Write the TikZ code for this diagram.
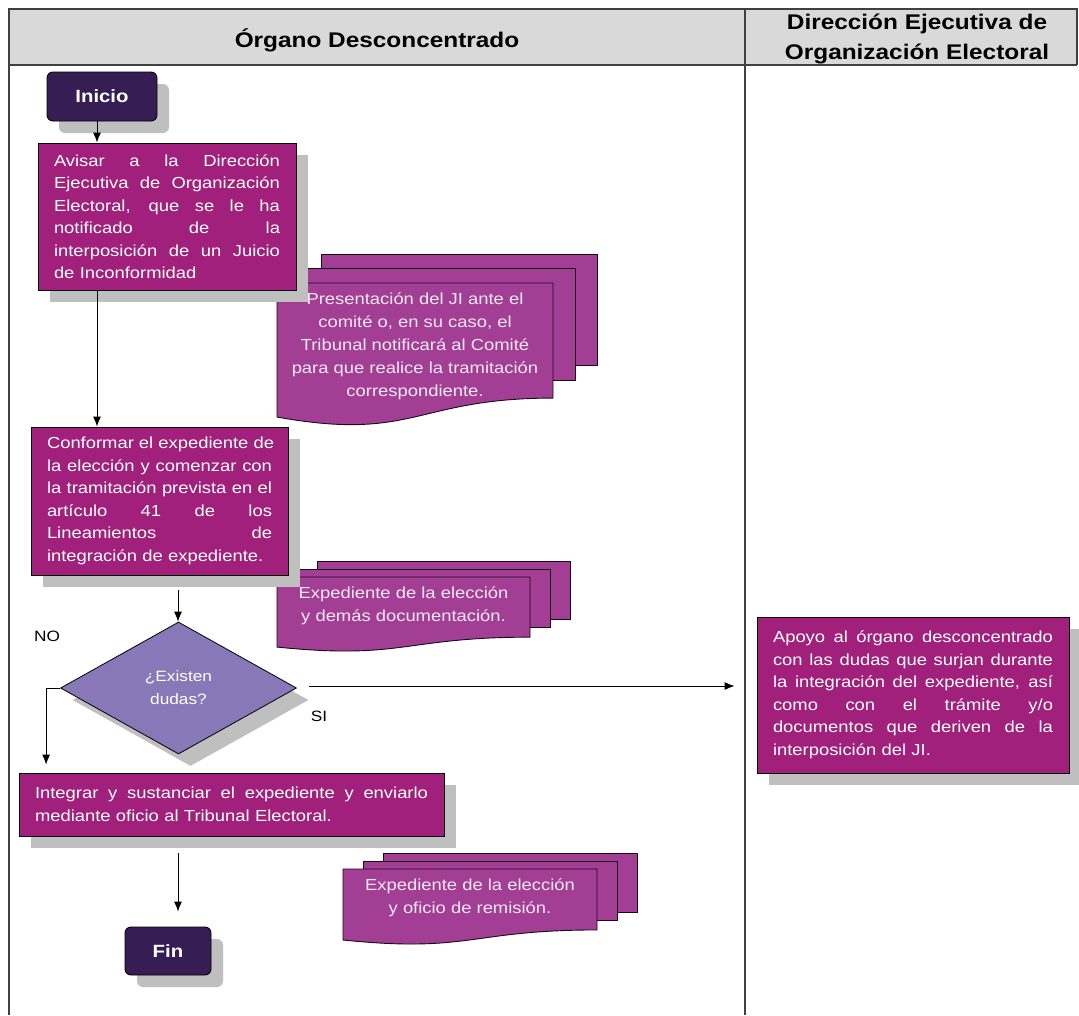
\documentclass[tikz,border=0pt]{standalone}
\usepackage{fontspec}
\setmainfont{Liberation Sans}[FakeStretch=1.15]
\usetikzlibrary{shapes.geometric,calc,arrows.meta,shadows}

\definecolor{boxfill}{HTML}{A0207C}
\definecolor{docfill}{HTML}{A23F95}
\definecolor{doctext}{HTML}{F6E8F3}
\definecolor{termfill}{HTML}{361E55}
\definecolor{decfill}{HTML}{8878B8}
\definecolor{shade}{HTML}{BFBFBF}
\definecolor{headfill}{HTML}{D9D9D9}
\definecolor{framecol}{HTML}{404040}

% one justified line that fills the text width
\newcommand\jrow[1]{\makebox[\hsize][s]{\spaceskip=\fontdimen2\font plus 1fil\xspaceskip=\spaceskip #1}}
% a stack of three sheets: left, top, width, height, x offset, y offset
\newcommand\paperstack[6]{%
  \filldraw[sheet] ({#1+2*#5},{#2-2*#6}) rectangle ({#1+2*#5+#3},{#2-2*#6+0.78*#4});
  \filldraw[sheet] ({#1+#5},{#2-#6}) rectangle ({#1+#5+#3},{#2-#6+0.78*#4});
  \filldraw[sheet] (#1,#2) -- ({#1+#3},#2) -- ({#1+#3},{#2+0.802*#4})
    .. controls ({#1+0.5*#3},{#2+0.802*#4}) and ({#1+0.5*#3},{#2+1.107*#4})
    .. (#1,{#2+0.934*#4}) -- cycle;
}

\begin{document}
\begin{tikzpicture}[x=1pt,y=-1pt,
  frame/.style={draw=framecol,line width=1.6pt},
  lanehead/.style={font=\bfseries\fontsize{21.2}{30}\selectfont,text=black,inner sep=0pt},
  boxshadow/.style={drop shadow={shadow xshift=12pt,shadow yshift=-12pt,fill=shade,opacity=1}},
  proc/.style={draw=black,line width=0.9pt,fill=boxfill,text=white,inner xsep=16pt,inner ysep=0pt,
    align=left,font=\fontsize{16}{22.5}\selectfont,boxshadow},
  term/.style={draw=black,line width=0.9pt,fill=termfill,text=white,rounded corners=6pt,
    font=\bfseries\fontsize{17.7}{20}\selectfont,boxshadow},
  decision/.style={diamond,draw=black,line width=0.8pt,fill=decfill,text=white,inner sep=0pt,
    minimum width=236pt,minimum height=132pt,align=center,
    font=\fontsize{15}{23}\selectfont,boxshadow},
  sheet/.style={fill=docfill,draw=black!85!docfill,line width=0.9pt},
  doclabel/.style={text=doctext,align=center,inner sep=0pt,font=\fontsize{16}{23}\selectfont},
  label/.style={text=black,inner sep=0pt,font=\fontsize{15}{18}\selectfont},
  arr/.style={-{Latex[length=10pt,width=8pt]},line width=0.9pt,draw=black}
]
\useasboundingbox (0,0) rectangle (1079,1015);
\fill[white] (0,0) rectangle (1079,1015);

% swimlane frame and headers
\fill[headfill] (9,9) rectangle (1077,65);
\draw[frame] (9,1015) -- (9,9) -- (1077,9) -- (1077,65);
\draw[frame] (9,65) -- (1077,65);
\draw[frame] (745,9) -- (745,1015);
\node[lanehead] (laneA) at (377,40) {Órgano Desconcentrado};
\node[lanehead,align=center] (laneB) at (917,39) {Dirección Ejecutiva de\\Organización Electoral};

% document stacks
\paperstack{277}{283}{276}{143.5}{22}{14.5}
\node[doclabel] (doc1) at (415,346) {Presentación del JI ante el\\comité o, en su caso, el\\Tribunal notificará al Comité\\para que realice la tramitación\\correspondiente.};
\paperstack{277}{577}{253}{75}{20}{8}
\node[doclabel] (doc2) at (403.5,605.5) {Expediente de la elección\\y demás documentación.};
\paperstack{343}{869}{254}{76}{20}{8}
\node[doclabel] (doc3) at (470,897.5) {Expediente de la elección\\y oficio de remisión.};

% process nodes
\node[term,minimum width=110pt,minimum height=49pt] (inicio) at (102,96.5) {Inicio};

\node[proc,text width=226pt,minimum height=147pt] (box1) at (167,216.5) {%
\jrow{Avisar a la Dirección}\\
\jrow{Ejecutiva de Organización}\\
\jrow{Electoral, que se le ha}\\
\jrow{notificado de la}\\
\jrow{interposición de un Juicio}\\
de Inconformidad};

\node[proc,text width=225pt,minimum height=148pt] (box2) at (159.5,501) {%
\jrow{Conformar el expediente de}\\
\jrow{la elección y comenzar con}\\
\jrow{la tramitación prevista en el}\\
\jrow{artículo 41 de los}\\
\jrow{Lineamientos de}\\
integración de expediente.};

\node[decision] (dia) at (178.5,688) {¿Existen\\dudas?};

\node[proc,text width=280pt,minimum height=156pt] (apoyo) at (913,695) {%
\jrow{Apoyo al órgano desconcentrado}\\
\jrow{con las dudas que surjan durante}\\
\jrow{la integración del expediente, así}\\
\jrow{como con el trámite y/o}\\
\jrow{documentos que deriven de la}\\
interposición del JI.};

\node[proc,text width=393pt,minimum height=63pt] (box3) at (231.5,804.5) {%
\jrow{Integrar y sustanciar el expediente y enviarlo}\\
mediante oficio al Tribunal Electoral.};

\node[term,minimum width=86pt,minimum height=48pt] (fin) at (168,951) {Fin};

% branch labels
\node[label] (lblno) at (47,636) {NO};
\node[label] (lblsi) at (319,716) {SI};

% connectors
\draw[arr] ([xshift=-5pt]inicio.south) -- ([xshift=-5pt]inicio.south |- box1.north);
\draw[arr] ([xshift=-70pt]box1.south) -- ([xshift=-70pt]box1.south |- box2.north);
\coordinate (fromtwo) at ([xshift=18.5pt,yshift=-15pt]box2.south);
\draw[arr] (fromtwo) -- (fromtwo |- dia.north);
\coordinate (nobend) at ([xshift=-14pt]dia.west);
\draw[arr,shorten >=8pt] (dia.west) -- (nobend) -- (nobend |- box3.north);
\draw[arr,shorten <=12pt,shorten >=22pt] ([yshift=2pt]dia.east) -- ([yshift=2pt]dia.east -| apoyo.west);
\coordinate (fromthree) at ([xshift=-53.5pt,yshift=-17pt]box3.south);
\draw[arr,shorten >=15pt] (fromthree) -- (fromthree |- fin.north);
\end{tikzpicture}
\end{document}
